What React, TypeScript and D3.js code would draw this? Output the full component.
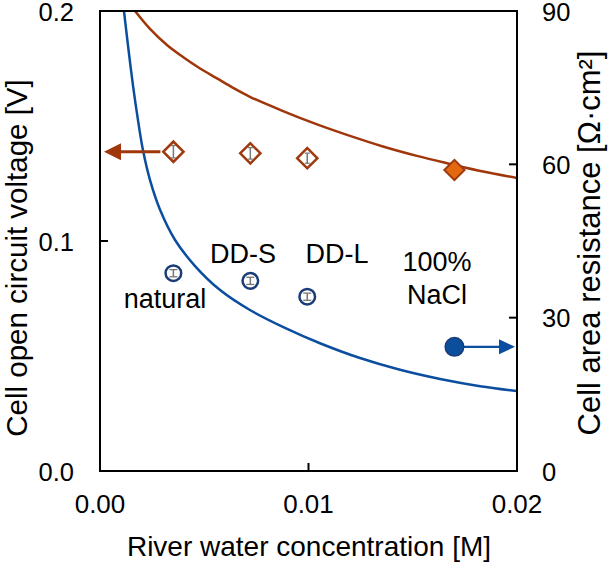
import React from "react";
import * as d3 from "d3";

const W = 609, H = 563;
const M = { left: 100, right: 517, top: 11, bottom: 471 };

// x ticks / y ticks
const xTicks = [0, 0.01, 0.02];
const xTickLabels = ["0.00", "0.01", "0.02"];
const yLTicks = [0, 0.1, 0.2];
const yLTickLabels = ["0.0", "0.1", "0.2"];
const yRTicks = [0, 30, 60, 90];
const yRTickLabels = ["0", "30", "60", "90"];

// measured points
const sampleConc = [0.00352, 0.00721, 0.00994];
const sampleNames = ["natural", "DD-S", "DD-L"];
const ocvVal = [0.1388, 0.1381, 0.136];
const ocvErr = [0.0027, 0.0025, 0.0022];
const resVal = [38.7, 37.2, 34.1];
const resErr = [0.7, 0.7, 0.7];
const naclConc = 0.017;
const naclOcv = 0.1309;
const naclRes = 24.3;

// theoretical curves
const ocvCurveX = [0.00168, 0.0024, 0.00321, 0.00398, 0.0048, 0.00561, 0.00638, 0.00719, 0.00878, 0.01041, 0.01199, 0.01357, 0.0152, 0.01679, 0.01837, 0.02];
const ocvCurveY = [0.2, 0.1922, 0.1852, 0.18, 0.175, 0.1707, 0.1666, 0.1627, 0.1565, 0.1507, 0.1457, 0.1411, 0.1370, 0.1335, 0.1302, 0.1274];
const resCurveX = [0.00115, 0.00134, 0.00158, 0.00182, 0.00206, 0.0024, 0.00288, 0.0036, 0.00456, 0.00576, 0.00719, 0.00887, 0.01055, 0.01247, 0.01439, 0.01631, 0.01823, 0.02];
const resCurveY = [90, 83.35, 75.5, 68.7, 62.8, 56.9, 51.1, 45.2, 40.1, 35.4, 31.5, 28.0, 25.0, 22.1, 19.8, 18.0, 16.6, 15.65];

const BROWN = "#A0370A";
const BLUE = "#0B4EA0";
const DIA_STROKE = "#9E3A0E";
const DIA_FILL = "#E2690F";
const CIRC_STROKE = "#1A3C78";
const CIRC_FILL = "#0B4F9C";
const FONT = "Liberation Sans, Arial, sans-serif";

export default function App() {
  const x = d3.scaleLinear().domain([0, 0.02]).range([M.left, M.right]);
  const yL = d3.scaleLinear().domain([0, 0.2]).range([M.bottom, M.top]);
  const yR = d3.scaleLinear().domain([0, 90]).range([M.bottom, M.top]);

  const ocvLine = d3.line<number>().x((_, i) => x(ocvCurveX[i])).y((d) => yL(d)).curve(d3.curveCatmullRom.alpha(0.5))(ocvCurveY) || "";
  const resLine = d3.line<number>().x((_, i) => x(resCurveX[i])).y((d) => yR(d)).curve(d3.curveCatmullRom.alpha(0.5))(resCurveY) || "";

  const diamond = d3.symbol().type(d3.symbolSquare).size(205)() || "";

  const tickLen = 8;
  const ax = x(sampleConc[0]);
  const ay = yL(ocvVal[0]);
  const bx = x(naclConc);
  const by = yR(naclRes);

  return (
    <svg width={W} height={H} style={{ position: "absolute", left: 0, top: 0, background: "#fff" }} fontFamily={FONT}>
      <rect x={0} y={0} width={W} height={H} fill="#fff" />
      <defs>
        <clipPath id="plotclip">
          <rect x={M.left} y={M.top} width={M.right - M.left} height={M.bottom - M.top} />
        </clipPath>
      </defs>

      {/* curves */}
      <g clipPath="url(#plotclip)">
        <path d={ocvLine} fill="none" stroke={BROWN} strokeWidth={2.5} />
        <path d={resLine} fill="none" stroke={BLUE} strokeWidth={2.5} />
      </g>

      {/* frame */}
      <rect x={M.left} y={M.top} width={M.right - M.left} height={M.bottom - M.top} fill="none" stroke="#000" strokeWidth={2} />

      {/* ticks */}
      {xTicks.map((t, i) => (
        <g key={"x" + i}>
          {i > 0 && i < xTicks.length - 1 && (
            <line x1={x(t)} x2={x(t)} y1={M.bottom} y2={M.bottom - tickLen} stroke="#000" strokeWidth={2} />
          )}
          <text x={x(t)} y={513} fontSize={26} textAnchor="middle" fill="#000">{xTickLabels[i]}</text>
        </g>
      ))}
      {yLTicks.map((t, i) => (
        <g key={"yl" + i}>
          {i > 0 && i < yLTicks.length - 1 && (
            <line x1={M.left} x2={M.left + tickLen} y1={yL(t)} y2={yL(t)} stroke="#000" strokeWidth={2} />
          )}
          <text x={74} y={yL(t) + 9.5} fontSize={25.5} textAnchor="end" fill="#000">{yLTickLabels[i]}</text>
        </g>
      ))}
      {yRTicks.map((t, i) => (
        <g key={"yr" + i}>
          {i > 0 && i < yRTicks.length - 1 && (
            <line x1={M.right} x2={M.right - tickLen} y1={yR(t)} y2={yR(t)} stroke="#000" strokeWidth={2} />
          )}
          <text x={542} y={yR(t) + 9.5} fontSize={25.5} textAnchor="start" fill="#000">{yRTickLabels[i]}</text>
        </g>
      ))}

      {/* axis titles */}
      <text x={309} y={556} fontSize={28} textAnchor="middle" fill="#000">River water concentration [M]</text>
      <text transform={`translate(26.5,258) rotate(-90)`} fontSize={29.5} textAnchor="middle" fill="#000">Cell open circuit voltage [V]</text>
      <text transform={`translate(600,243) rotate(-90)`} fontSize={31} textAnchor="middle" fill="#000">Cell area resistance [Ω·cm²]</text>

      {/* arrows */}
      <line x1={ax - 13} x2={M.left + 18} y1={ay} y2={ay} stroke={BROWN} strokeWidth={3} />
      <path d={`M${M.left + 4},${ay} L${M.left + 21},${ay - 8.5} L${M.left + 21},${ay + 8.5} Z`} fill={BROWN} />
      <line x1={bx + 9} x2={M.right - 17} y1={by} y2={by} stroke={BLUE} strokeWidth={2.2} />
      <path d={`M${M.right - 2},${by} L${M.right - 18},${by - 7.5} L${M.right - 18},${by + 7.5} Z`} fill={BLUE} />

      {/* OCV diamonds */}
      {sampleConc.map((c, i) => (
        <g key={"d" + i}>
          <path d={diamond} transform={`translate(${x(c)},${yL(ocvVal[i])}) rotate(45)`} fill="#fff" stroke={DIA_STROKE} strokeWidth={2.5} />
          <line x1={x(c)} x2={x(c)} y1={yL(ocvVal[i] - ocvErr[i])} y2={yL(ocvVal[i] + ocvErr[i])} stroke="#777" strokeWidth={1.5} />
          <line x1={x(c) - 2.5} x2={x(c) + 2.5} y1={yL(ocvVal[i] - ocvErr[i])} y2={yL(ocvVal[i] - ocvErr[i])} stroke="#777" strokeWidth={1.2} />
          <line x1={x(c) - 2.5} x2={x(c) + 2.5} y1={yL(ocvVal[i] + ocvErr[i])} y2={yL(ocvVal[i] + ocvErr[i])} stroke="#777" strokeWidth={1.2} />
        </g>
      ))}
      <path d={diamond} transform={`translate(${x(naclConc)},${yL(naclOcv)}) rotate(45)`} fill={DIA_FILL} stroke={DIA_STROKE} strokeWidth={2} />

      {/* resistance circles */}
      {sampleConc.map((c, i) => (
        <g key={"c" + i}>
          <circle cx={x(c)} cy={yR(resVal[i])} r={7.8} fill="#fff" stroke={CIRC_STROKE} strokeWidth={2.5} />
          <line x1={x(c)} x2={x(c)} y1={yR(resVal[i] - resErr[i])} y2={yR(resVal[i] + resErr[i])} stroke="#777" strokeWidth={1.5} />
          <line x1={x(c) - 4} x2={x(c) + 4} y1={yR(resVal[i] - resErr[i])} y2={yR(resVal[i] - resErr[i])} stroke="#777" strokeWidth={1.3} />
          <line x1={x(c) - 4} x2={x(c) + 4} y1={yR(resVal[i] + resErr[i])} y2={yR(resVal[i] + resErr[i])} stroke="#777" strokeWidth={1.3} />
        </g>
      ))}
      <circle cx={bx} cy={by} r={9.3} fill={CIRC_FILL} stroke={CIRC_STROKE} strokeWidth={1.5} />

      {/* labels */}
      <text x={165} y={308} fontSize={27} textAnchor="middle" fill="#000">{sampleNames[0]}</text>
      <text x={243} y={263} fontSize={27} textAnchor="middle" fill="#000">{sampleNames[1]}</text>
      <text x={337} y={263} fontSize={27} textAnchor="middle" fill="#000">{sampleNames[2]}</text>
      <text x={437} y={271} fontSize={27} textAnchor="middle" fill="#000">100%</text>
      <text x={437} y={304} fontSize={27} textAnchor="middle" fill="#000">NaCl</text>
    </svg>
  );
}
